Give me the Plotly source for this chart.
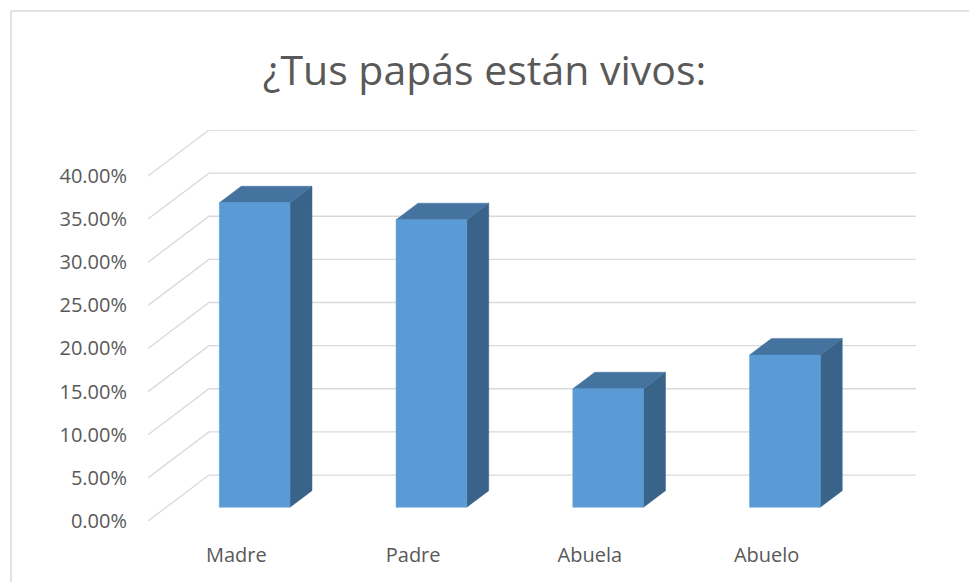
import plotly.graph_objects as go

# ---- data ----
categories = ["Madre", "Padre", "Abuela", "Abuelo"]
values = [35.29, 33.33, 13.73, 17.65]          # percent
tick_values = [0, 5, 10, 15, 20, 25, 30, 35, 40]
tick_labels = ["%.2f%%" % v for v in tick_values]
title_text = "¿Tus papás están vivos:"

# ---- 3D geometry in data units ----
DX = 0.345      # full depth, x (category units)
DY = 5.33       # full depth, y (percent units)
D0, D1 = 0.30, 0.66   # bar front / back depth fraction
HALF_W = 0.20

FRONT = "#5B9BD5"
TOP = "#44739F"
SIDE = "#3A6389"
GRID = "#D9D9D9"
TEXT = "#595959"

fig = go.Figure()

# gridlines (3D walls)
n = len(categories)
xl, xr = -0.5, n - 0.5
for v in tick_values:
    fig.add_trace(go.Scatter(
        x=[xl, xl + DX, xr + DX], y=[v, v + DY, v + DY],
        mode="lines", line=dict(color=GRID, width=1.3),
        hoverinfo="skip", showlegend=False))

def poly(xs, ys, color):
    fig.add_trace(go.Scatter(
        x=xs + [xs[0]], y=ys + [ys[0]], mode="lines", fill="toself",
        fillcolor=color, line=dict(color=color, width=0.5),
        hoverinfo="skip", showlegend=False))

ddx = (D1 - D0) * DX
ddy = (D1 - D0) * DY
for i, v in enumerate(values):
    xc = i + D0 * DX
    b = D0 * DY
    x0, x1 = xc - HALF_W, xc + HALF_W
    # side face
    poly([x1, x1 + ddx, x1 + ddx, x1], [b, b + ddy, b + v + ddy, b + v], SIDE)
    # top face
    poly([x0, x1, x1 + ddx, x0 + ddx], [b + v, b + v, b + v + ddy, b + v + ddy], TOP)
    # front face
    poly([x0, x1, x1, x0], [b, b, b + v, b + v], FRONT)

fig.update_layout(
    width=969, height=582,
    margin=dict(l=148, r=53, t=130, b=61),
    paper_bgcolor="white", plot_bgcolor="white",
    font=dict(family="Open Sans", color=TEXT),
    title=dict(text=title_text, x=0.5, xanchor="center", xref="container",
               y=1 - 71 / 582, yanchor="middle", yref="container",
               font=dict(size=41, color=TEXT, family="Open Sans")),
    xaxis=dict(range=[xl, xr + DX], tickmode="array",
               tickvals=list(range(n)), ticktext=categories,
               showgrid=False, zeroline=False, showline=False, ticks="",
               ticklabelstandoff=20, tickfont=dict(size=20, color=TEXT),
               fixedrange=True),
    yaxis=dict(range=[0, 40 + DY], tickmode="array",
               tickvals=tick_values, ticktext=tick_labels,
               showgrid=False, zeroline=False, showline=False, ticks="",
               ticklabelstandoff=20, tickfont=dict(size=20, color=TEXT),
               fixedrange=True),
    showlegend=False,
)

# chart border
fig.add_shape(type="rect", xref="paper", yref="paper",
              x0=(11 - 148) / 768, x1=(980 - 148) / 768,
              y0=(521 - 600) / 391, y1=(521 - 11) / 391,
              line=dict(color=GRID, width=1.5), fillcolor="rgba(0,0,0,0)",
              layer="below")

fig.write_html("out.html",
               config={"displayModeBar": False},
               post_script="document.body.style.margin='0';document.body.style.padding='0';")
